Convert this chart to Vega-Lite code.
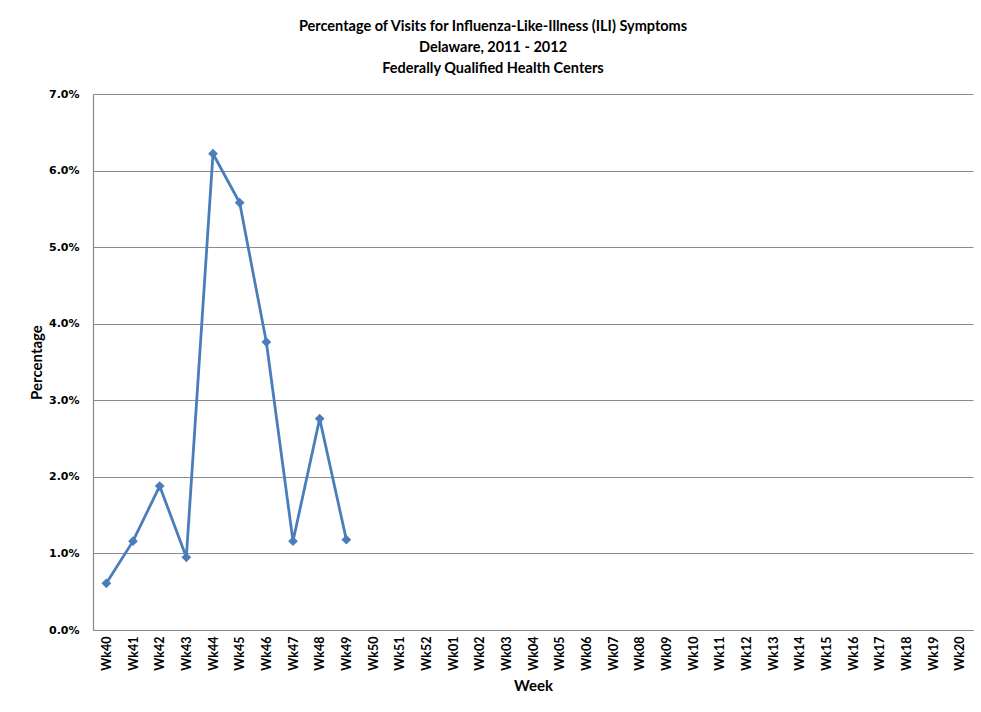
{
  "$schema": "https://vega.github.io/schema/vega-lite/v6.json",
  "autosize": "none",
  "width": 880,
  "height": 536,
  "padding": {"left": 93, "top": 94, "right": 8, "bottom": 82},
  "background": "white",
  "title": {
    "text": ["Percentage of Visits for Influenza-Like-Illness (ILI) Symptoms", "Delaware, 2011 - 2012", "Federally Qualified Health Centers"],
    "font": "Lato",
    "fontSize": 14.5,
    "fontWeight": "bold",
    "color": "black",
    "anchor": "middle",
    "dx": -40,
    "offset": 12,
    "lineHeight": 21
  },
  "data": {
    "values": [
      {"week": "Wk40", "pct": 0.0061},
      {"week": "Wk41", "pct": 0.0116},
      {"week": "Wk42", "pct": 0.0188},
      {"week": "Wk43", "pct": 0.0095},
      {"week": "Wk44", "pct": 0.0622},
      {"week": "Wk45", "pct": 0.0558},
      {"week": "Wk46", "pct": 0.0376},
      {"week": "Wk47", "pct": 0.0116},
      {"week": "Wk48", "pct": 0.0276},
      {"week": "Wk49", "pct": 0.0118}
    ]
  },
  "config": {
    "view": {"stroke": null},
    "axis": {"labelColor": "black", "titleColor": "black"}
  },
  "encoding": {
    "x": {
      "field": "week",
      "type": "ordinal",
      "scale": {
        "type": "point",
        "padding": 0.5,
        "domain": ["Wk40","Wk41","Wk42","Wk43","Wk44","Wk45","Wk46","Wk47","Wk48","Wk49","Wk50","Wk51","Wk52","Wk01","Wk02","Wk03","Wk04","Wk05","Wk06","Wk07","Wk08","Wk09","Wk10","Wk11","Wk12","Wk13","Wk14","Wk15","Wk16","Wk17","Wk18","Wk19","Wk20"]
      },
      "axis": {
        "title": "Week",
        "titleFont": "Lato",
        "titleFontSize": 15,
        "titleFontWeight": "bold",
        "titlePadding": 8,
        "labelAngle": -90,
        "labelAlign": "right",
        "labelBaseline": "middle",
        "labelFont": "Lato",
        "labelFontSize": 12.5,
        "labelFontWeight": "bold",
        "labelPadding": 6,
        "ticks": false,
        "domainColor": "#888888",
        "domainWidth": 1.2,
        "grid": false
      }
    },
    "y": {
      "field": "pct",
      "type": "quantitative",
      "scale": {"domain": [0, 0.07], "nice": false},
      "axis": {
        "title": "Percentage",
        "titleFont": "Lato",
        "titleFontSize": 15,
        "titleFontWeight": "bold",
        "titlePadding": 4,
        "format": ".1%",
        "values": [0, 0.01, 0.02, 0.03, 0.04, 0.05, 0.06, 0.07],
        "labelFont": "DejaVu Sans",
        "labelFontSize": 11,
        "labelFontWeight": "bold",
        "labelPadding": 14,
        "ticks": false,
        "domainColor": "#888888",
        "domainWidth": 1.2,
        "grid": true,
        "gridColor": "#8c8c8c",
        "gridWidth": 1
      }
    }
  },
  "layer": [
    {"mark": {"type": "line", "color": "#4A7EBB", "strokeWidth": 2.8}},
    {"mark": {"type": "point", "shape": "diamond", "filled": true, "size": 95, "color": "#4A7EBB", "opacity": 1}}
  ]
}
